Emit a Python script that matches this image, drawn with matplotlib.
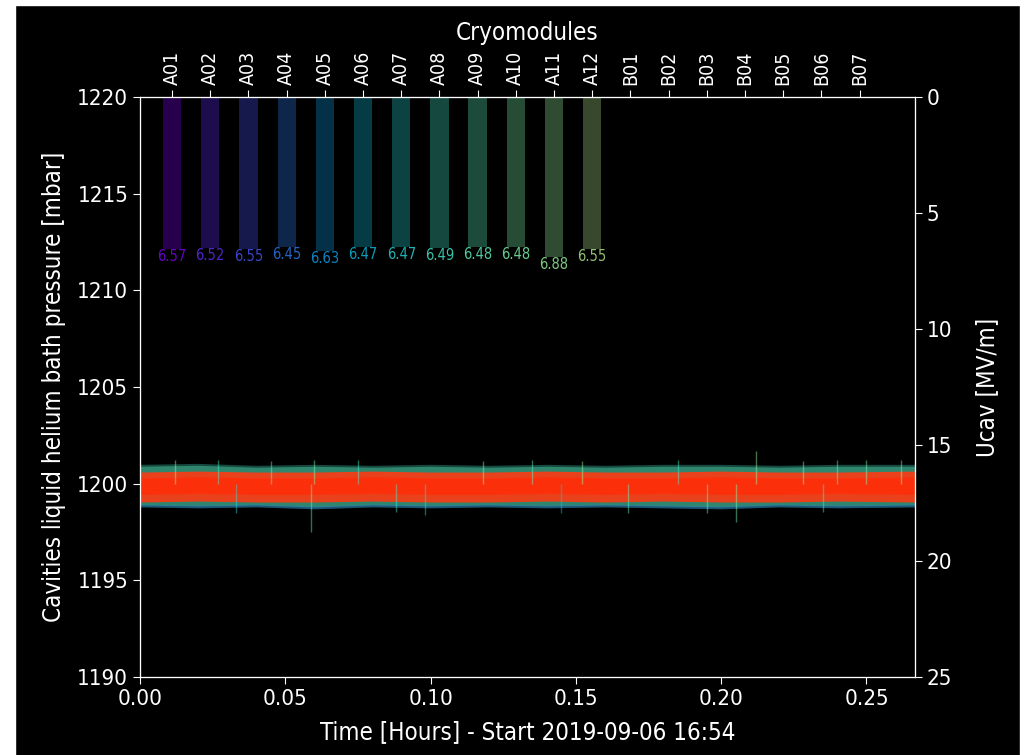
import numpy as np
import matplotlib
matplotlib.use('Agg')
import matplotlib.pyplot as plt
from matplotlib.patches import Rectangle

# cryomodule names and mean Ucav per module (only A01..A12 have values)
modules = ['A01', 'A02', 'A03', 'A04', 'A05', 'A06', 'A07', 'A08', 'A09', 'A10',
           'A11', 'A12', 'B01', 'B02', 'B03', 'B04', 'B05', 'B06', 'B07']
ucav = [6.57, 6.52, 6.55, 6.45, 6.63, 6.47, 6.47, 6.49, 6.48, 6.48, 6.88, 6.55]

# pressure band (envelope of all traces)
t_env = [0.0, 0.02, 0.04, 0.06, 0.08, 0.10, 0.12, 0.14, 0.16, 0.18, 0.20, 0.22, 0.24, 0.2667]
outer_hi = [1201.0, 1201.05, 1200.95, 1201.0, 1200.95, 1201.0, 1200.95, 1201.0, 1200.95, 1201.0, 1201.0, 1200.95, 1201.0, 1201.0]
outer_lo = [1198.8, 1198.75, 1198.8, 1198.7, 1198.8, 1198.75, 1198.8, 1198.75, 1198.8, 1198.75, 1198.7, 1198.8, 1198.75, 1198.8]
core_hi = [1200.6, 1200.65, 1200.6, 1200.6, 1200.65, 1200.6, 1200.6, 1200.65, 1200.6, 1200.6, 1200.65, 1200.6, 1200.6, 1200.65]
core_lo = [1199.05, 1199.1, 1199.05, 1199.05, 1199.1, 1199.05, 1199.05, 1199.1, 1199.05, 1199.1, 1199.05, 1199.05, 1199.1, 1199.05]

# isolated spikes visible outside the band
spike_t = [0.059, 0.060, 0.205, 0.212, 0.027, 0.098, 0.168, 0.250, 0.012, 0.045, 0.075, 0.118,
           0.135, 0.152, 0.185, 0.228, 0.240, 0.262, 0.033, 0.088, 0.145, 0.195, 0.235]
spike_lo = [1197.5, 1200.0, 1198.0, 1200.0, 1200.0, 1198.4, 1198.5, 1200.0, 1200.0, 1200.0, 1200.0, 1200.0,
            1200.0, 1200.0, 1200.0, 1200.0, 1200.0, 1200.0, 1198.5, 1198.55, 1198.5, 1198.5, 1198.55]
spike_hi = [1200.0, 1201.2, 1200.0, 1201.7, 1201.2, 1200.0, 1200.0, 1201.25, 1201.2, 1201.15, 1201.2, 1201.15,
            1201.2, 1201.15, 1201.2, 1201.15, 1201.2, 1201.2, 1200.0, 1200.0, 1200.0, 1200.0, 1200.0]
spike_c = [8, 9, 9, 10, 7, 6, 8, 9, 9, 8, 7, 9, 8, 10, 7, 9, 8, 9, 6, 7, 5, 8, 7]

fs_tick = 16
fs_lab = 17.3
plt.rcParams['font.family'] = 'DejaVu Sans'
plt.rcParams['font.stretch'] = 'condensed'

fig = plt.figure(figsize=(10.25, 7.55), dpi=100, facecolor='black')
ax = fig.add_axes([140 / 1025, 1 - 677 / 755, 775 / 1025, 580 / 755])
ax.set_facecolor('black')

cmap = plt.get_cmap('rainbow')
colors = [cmap(i / (len(modules) - 1)) for i in range(len(modules))]

# pressure traces
ax.fill_between(t_env, outer_lo, outer_hi, color=colors[7], alpha=0.3, lw=0)
ax.fill_between(t_env, [v + 0.1 for v in outer_lo], [v - 0.1 for v in outer_hi], color=colors[8], alpha=0.35, lw=0)
ax.fill_between(t_env, outer_lo, [v + 0.15 for v in outer_lo], color=colors[3], alpha=0.3, lw=0)
for i in range(len(spike_t)):
    ax.vlines(spike_t[i], spike_lo[i], spike_hi[i], color=colors[spike_c[i]], alpha=0.45, lw=1.0)
ax.fill_between(t_env, core_lo, core_hi, color='#ff3a12', alpha=0.9, lw=0)
ax.fill_between(t_env, [v + 0.4 for v in core_lo], [v - 0.3 for v in core_hi], color='#ff2e0a', alpha=0.9, lw=0)

ax.set_xlim(0, 0.2667)
ax.set_ylim(1190, 1220)
ax.set_xticks([0.0, 0.05, 0.10, 0.15, 0.20, 0.25])
ax.set_xticklabels(['0.00', '0.05', '0.10', '0.15', '0.20', '0.25'])
ax.set_yticks(range(1190, 1221, 5))
ax.set_xlabel('Time [Hours] - Start 2019-09-06 16:54', color='white', fontsize=fs_lab, labelpad=8)
ax.set_ylabel('Cavities liquid helium bath pressure [mbar]', color='white', fontsize=fs_lab, labelpad=8)

# right axis: Ucav, inverted
ax_r = ax.twinx()
ax_r.set_ylim(25, 0)
ax_r.set_yticks(range(0, 26, 5))
ax_r.set_ylabel('Ucav [MV/m]', color='white', fontsize=fs_lab, labelpad=16)

# top axis: cryomodules
ax_t = ax_r.twiny()
xs = np.arange(len(modules))
ax_t.set_xlim(-0.84, 19.45)
ax_t.set_xticks(xs)
ax_t.set_xticklabels(modules, rotation=90, fontsize=14)
ax_t.set_xlabel('Cryomodules', color='white', fontsize=fs_lab, labelpad=8)
for i, v in enumerate(ucav):
    ax_t.bar(xs[i], v, width=0.48, bottom=0, color=colors[i], alpha=0.3, lw=0)
    ax_t.text(xs[i], v, '%.2f' % v, color=colors[i], alpha=0.8, fontsize=10.5,
              ha='center', va='top')

for a in (ax, ax_r, ax_t):
    a.tick_params(colors='white', labelsize=fs_tick, length=5)
    for s in a.spines.values():
        s.set_color('white')
ax_t.tick_params(labelsize=14)

# screenshot border
fig.patches.append(Rectangle((0, 0), 15 / 1025, 1, transform=fig.transFigure, color='white', zorder=-1))
fig.patches.append(Rectangle((0, 1 - 5 / 755), 1, 5 / 755, transform=fig.transFigure, color='white', zorder=-1))
fig.patches.append(Rectangle((1020 / 1025, 0), 5 / 1025, 1, transform=fig.transFigure, color='white', zorder=-1))

fig.savefig('out.png', dpi=100, facecolor='black')
